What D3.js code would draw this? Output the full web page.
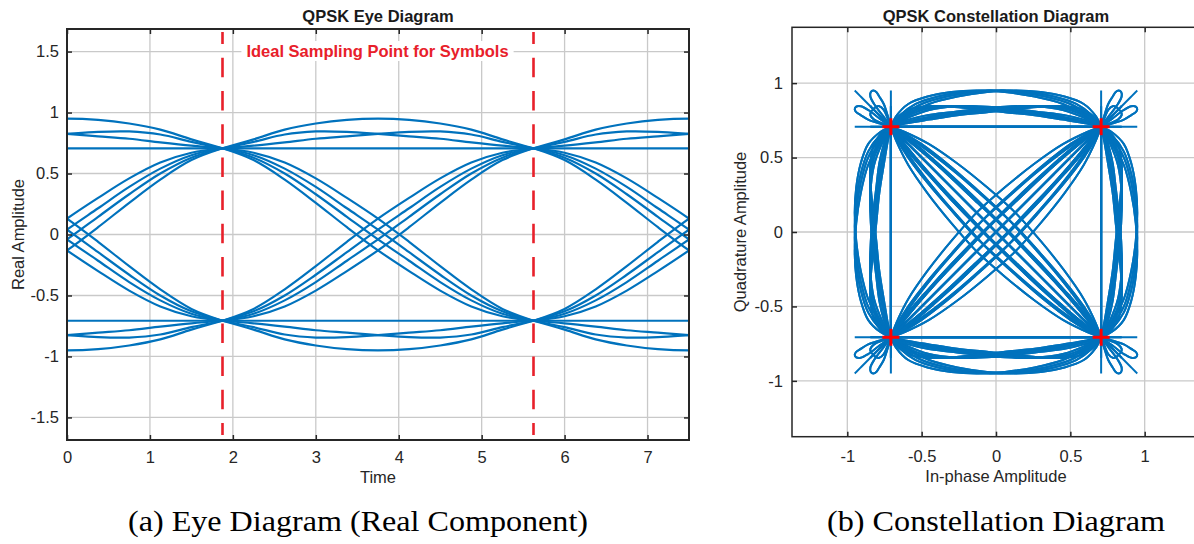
<!DOCTYPE html>
<html>
<head>
<meta charset="utf-8">
<script src="https://cdn.jsdelivr.net/npm/d3@7"></script>
<style>
  body { margin: 0; background: #fff; }
  svg { display: block; }
</style>
</head>
<body>
<svg id="chart" width="1194" height="544"></svg>
<script>
// time samples of one symbol transition (symbol period 3.75)
const profileTimes = [0, 0.375, 0.75, 1.125, 1.5, 1.875, 2.25, 2.625, 3, 3.375, 3.75];
const eyeWindowStarts = [-1.875, 1.875, 5.625];
const samplingTimes = [1.875, 5.625];
const symbolLevels = [-0.707, 0.707];

// one rail going from the +0.707 level; the -0.707 rail is the same negated
const stayFlat     = [0.707, 0.707, 0.707, 0.707, 0.707, 0.707, 0.707, 0.707, 0.707, 0.707, 0.707];
const stayArc      = [0.707, 0.78, 0.86, 0.91, 0.94, 0.95, 0.94, 0.91, 0.86, 0.78, 0.707];
const stayRiseArch = [0.707, 0.728, 0.755, 0.785, 0.805, 0.825, 0.842, 0.845, 0.82, 0.76, 0.707];
const stayArchFall = [0.707, 0.76, 0.82, 0.845, 0.842, 0.825, 0.805, 0.785, 0.755, 0.728, 0.707];
const crossA = [0.707, 0.67, 0.59, 0.46, 0.30, 0.13, -0.06, -0.26, -0.45, -0.61, -0.707];
const crossB = [0.707, 0.65, 0.54, 0.39, 0.215, 0.04, -0.145, -0.33, -0.50, -0.63, -0.707];
const crossC = [0.707, 0.63, 0.50, 0.33, 0.145, -0.04, -0.215, -0.39, -0.54, -0.65, -0.707];
const crossD = [0.707, 0.61, 0.45, 0.26, 0.06, -0.13, -0.30, -0.46, -0.59, -0.67, -0.707];
const railProfiles = [stayFlat, stayArc, stayRiseArch, stayArchFall, crossA, crossB, crossC, crossD];

const eyeXTicks = [0, 1, 2, 3, 4, 5, 6, 7];
const eyeYTicks = [-1.5, -1, -0.5, 0, 0.5, 1, 1.5];
const constTicks = [-1, -0.5, 0, 0.5, 1];

const blue = '#0072bd';
const sans = '"Liberation Sans", Arial, sans-serif';
const fs = 16.5;
const fmt = d => String(d);

const svg = d3.select('#chart');

const eyeX = d3.scaleLinear().domain([0, 7.5]).range([67, 689]);
const eyeY = d3.scaleLinear().domain([-1.685, 1.685]).range([440, 29]);
const conX = d3.scaleLinear().domain([-1.372, 1.372]).range([792, 1200]);
const conY = d3.scaleLinear().domain([-1.375, 1.375]).range([436.7, 27.3]);

function drawGrid(g, x, y, xTicks, yTicks) {
  const [x0, x1] = x.range();
  const [y0, y1] = y.range();
  g.append('g').selectAll('line').data(xTicks).join('line')
    .attr('x1', d => x(d)).attr('x2', d => x(d))
    .attr('y1', y0).attr('y2', y1);
  g.append('g').selectAll('line').data(yTicks).join('line')
    .attr('x1', x0).attr('x2', x1)
    .attr('y1', d => y(d)).attr('y2', d => y(d));
  g.attr('stroke', '#c9c9c9').attr('stroke-width', 1.3);
}

function drawAxes(g, x, y, xTicks, yTicks, xPad, yPad, frameWidth) {
  const [x0, x1] = x.range();
  const [y0, y1] = y.range();
  const clean = a => a.select('.domain').remove();
  const style = a => a.attr('font-family', sans).attr('font-size', fs)
    .attr('color', '#262626');

  g.append('g').attr('transform', `translate(0,${y0})`)
    .call(d3.axisBottom(x).tickValues(xTicks).tickSizeInner(-5).tickSizeOuter(0)
      .tickPadding(xPad).tickFormat(fmt))
    .call(clean).call(style);
  g.append('g').attr('transform', `translate(0,${y1})`)
    .call(d3.axisTop(x).tickValues(xTicks).tickSizeInner(-5).tickSizeOuter(0).tickFormat(''))
    .call(clean).call(style);
  g.append('g').attr('transform', `translate(${x0},0)`)
    .call(d3.axisLeft(y).tickValues(yTicks).tickSizeInner(-5).tickSizeOuter(0)
      .tickPadding(yPad).tickFormat(fmt))
    .call(clean).call(style);
  g.append('g').attr('transform', `translate(${x1},0)`)
    .call(d3.axisRight(y).tickValues(yTicks).tickSizeInner(-5).tickSizeOuter(0).tickFormat(''))
    .call(clean).call(style);
  g.selectAll('.tick line').attr('stroke-width', 1.5);

  g.append('rect')
    .attr('x', x0).attr('y', y1)
    .attr('width', x1 - x0).attr('height', y0 - y1)
    .attr('fill', 'none').attr('stroke', '#262626').attr('stroke-width', frameWidth);
}

function addClip(id, x, y) {
  svg.append('clipPath').attr('id', id).append('rect')
    .attr('x', x.range()[0]).attr('y', y.range()[1])
    .attr('width', x.range()[1] - x.range()[0])
    .attr('height', y.range()[0] - y.range()[1]);
}

function addText(txt, x, y, size, opts = {}) {
  const t = svg.append('text')
    .attr('x', x).attr('y', y)
    .attr('text-anchor', 'middle')
    .attr('font-family', opts.family || sans)
    .attr('font-size', size)
    .attr('font-weight', opts.bold ? 'bold' : null)
    .attr('fill', opts.color || '#000')
    .attr('transform', opts.rotate ? `rotate(-90,${x},${y})` : null)
    .text(txt);
  if (opts.width) t.attr('textLength', opts.width).attr('lengthAdjust', 'spacingAndGlyphs');
  return t;
}

// ---------- eye diagram ----------
addClip('eyeClip', eyeX, eyeY);
drawGrid(svg.append('g'), eyeX, eyeY, eyeXTicks, eyeYTicks);

const eyeTraces = [];
eyeWindowStarts.forEach(w => {
  railProfiles.forEach(p => {
    [1, -1].forEach(s => {
      eyeTraces.push(profileTimes.map((t, k) => [w + t, s * p[k]]));
    });
  });
});

const eyeLine = d3.line()
  .x(d => eyeX(d[0]))
  .y(d => eyeY(d[1]))
  .curve(d3.curveCatmullRom.alpha(0.5));

svg.append('g').attr('clip-path', 'url(#eyeClip)')
  .selectAll('path').data(eyeTraces).join('path')
  .attr('d', eyeLine)
  .attr('fill', 'none')
  .attr('stroke', blue)
  .attr('stroke-width', 2.2);

svg.append('g').selectAll('line').data(samplingTimes).join('line')
  .attr('x1', d => eyeX(d)).attr('x2', d => eyeX(d))
  .attr('y1', 32).attr('y2', 435)
  .attr('stroke', '#e8202a')
  .attr('stroke-width', 2.6)
  .attr('stroke-dasharray', '19.5,13.7')
  .attr('stroke-dashoffset', 7.4);

drawAxes(svg.append('g'), eyeX, eyeY, eyeXTicks, eyeYTicks, 11.6, 8, 2);

const label = addText('Ideal Sampling Point for Symbols', 377.5, 57, fs,
  { bold: true, color: '#e8202a' });
const lb = label.node().getBBox();
svg.insert('rect', () => label.node())
  .attr('x', lb.x - 5).attr('y', lb.y - 1)
  .attr('width', lb.width + 10).attr('height', lb.height + 2)
  .attr('fill', '#fff');

addText('QPSK Eye Diagram', 378, 22, fs, { bold: true, color: '#1a1a1a' });
addText('Time', 378, 483, fs, { color: '#262626' });
addText('Real Amplitude', 24, 234.5, fs, { color: '#262626', rotate: true });

// ---------- constellation ----------
addClip('conClip', conX, conY);
drawGrid(svg.append('g'), conX, conY, constTicks, constTicks);

const conTraces = [];
symbolLevels.forEach(i0 => {
  symbolLevels.forEach(q0 => {
    railProfiles.forEach(pi => {
      railProfiles.forEach(pq => {
        conTraces.push(profileTimes.map((t, k) =>
          [Math.sign(i0) * pi[k], Math.sign(q0) * pq[k]]));
      });
    });
  });
});

const conLine = d3.line()
  .x(d => conX(d[0]))
  .y(d => conY(d[1]))
  .curve(d3.curveCatmullRom.alpha(0.5));

svg.append('g').attr('clip-path', 'url(#conClip)')
  .selectAll('path').data(conTraces).join('path')
  .attr('d', conLine)
  .attr('fill', 'none')
  .attr('stroke', blue)
  .attr('stroke-width', 2);

const points = [];
symbolLevels.forEach(i0 => symbolLevels.forEach(q0 => points.push([i0, q0])));
const mk = 8.5;
const marks = svg.append('g').attr('stroke', '#f00').attr('stroke-width', 3);
marks.selectAll('.h').data(points).join('line')
  .attr('x1', d => conX(d[0]) - mk).attr('x2', d => conX(d[0]) + mk)
  .attr('y1', d => conY(d[1])).attr('y2', d => conY(d[1]));
marks.selectAll('.v').data(points).join('line')
  .attr('x1', d => conX(d[0])).attr('x2', d => conX(d[0]))
  .attr('y1', d => conY(d[1]) - mk).attr('y2', d => conY(d[1]) + mk);

drawAxes(svg.append('g'), conX, conY, constTicks, constTicks, 13.3, 9, 1.5);

addText('QPSK Constellation Diagram', 996, 21.5, fs, { bold: true, color: '#1a1a1a' });
addText('In-phase Amplitude', 996, 482, fs, { color: '#262626' });
addText('Quadrature Amplitude', 746, 232, fs, { color: '#262626', rotate: true });

// ---------- captions ----------
const serif = '"Liberation Serif", "Times New Roman", serif';
addText('(a) Eye Diagram (Real Component)', 358, 531, 29, { family: serif, width: 460 });
addText('(b) Constellation Diagram', 996, 531, 29, { family: serif, width: 338 });
</script>
</body>
</html>
